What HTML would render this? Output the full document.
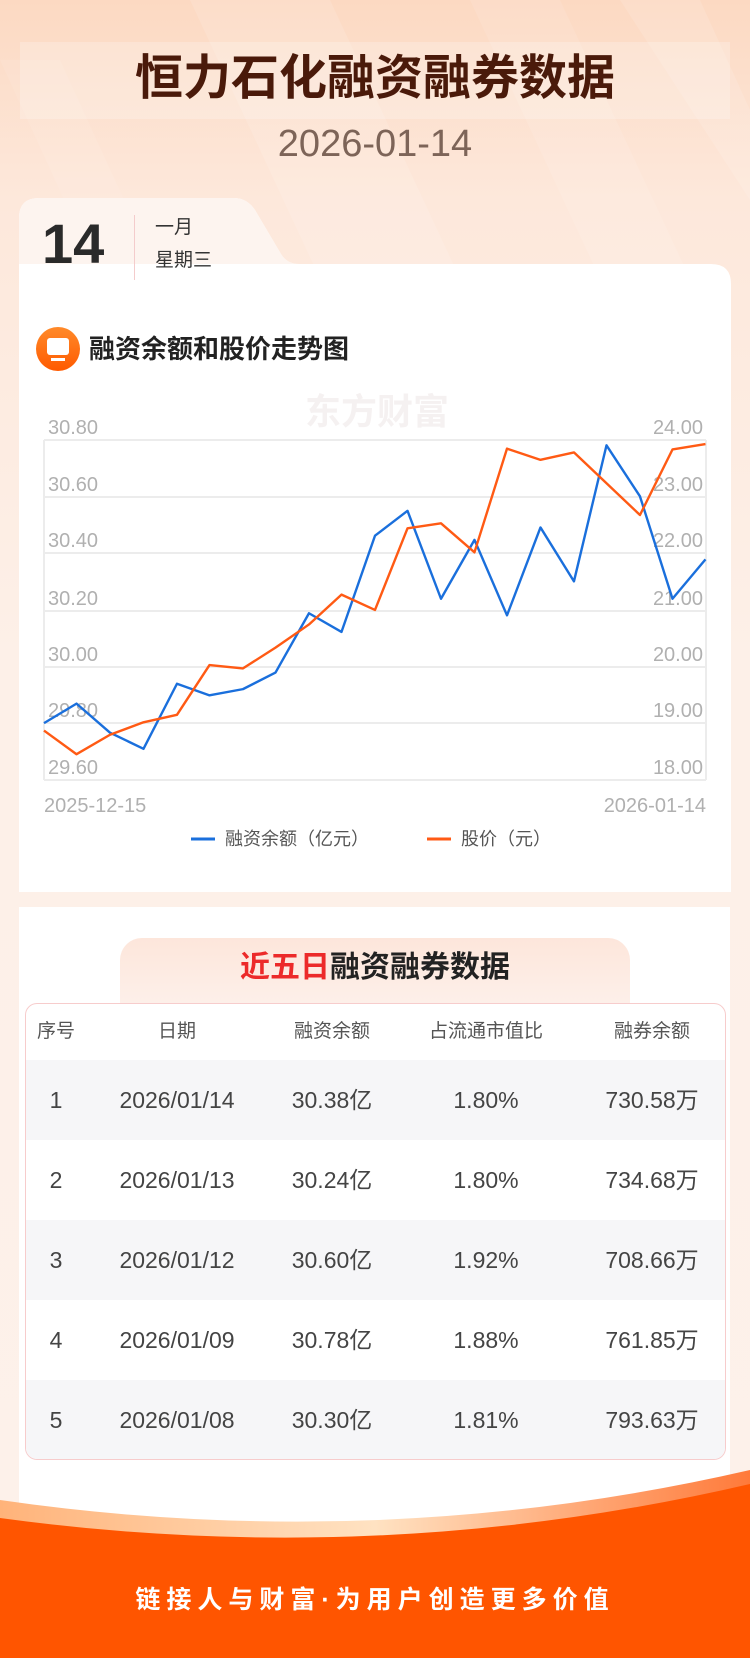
<!DOCTYPE html>
<html><head><meta charset="utf-8"><style>
*{margin:0;padding:0;box-sizing:border-box}
body{width:750px;height:1658px;position:relative;overflow:hidden;font-family:"Liberation Sans","Noto Sans CJK SC",sans-serif;background:linear-gradient(180deg,#fcd9c2 0%,#fde8db 12%,#fdf0e8 40%,#fdf1ea 100%)}
.abs{position:absolute}
</style></head><body>
<svg class="abs" style="left:0;top:0" width="750" height="300">
<polygon points="190,0 330,0 470,300 330,300" fill="#fff" opacity="0.12"/>
<polygon points="470,0 560,0 700,300 610,300" fill="#fff" opacity="0.1"/>
<polygon points="620,0 700,0 750,110 750,200" fill="#fff" opacity="0.12"/>
<polygon points="0,60 60,60 170,300 110,300" fill="#fff" opacity="0.08"/>
</svg>
<div class="abs" style="left:20px;top:42px;width:710px;height:77px;background:rgba(255,255,255,0.22)"></div>
<div class="abs" style="left:0;width:750px;top:51px;text-align:center;font-size:48px;font-weight:bold;color:#4a1a0a;line-height:56px">恒力石化融资融券数据</div>
<div class="abs" style="left:0;width:750px;top:121px;text-align:center;font-size:38px;color:#7d6458;line-height:46px">2026-01-14</div>

<svg class="abs" style="left:19px;top:198px" width="712" height="694">
<path d="M0,694 L0,20 Q0,0 20,0 L215,0 Q228,0 236,12 L262,56 Q268,66 280,66 L692,66 Q712,66 712,86 L712,694 Z" fill="#fff"/>
<path d="M0,66 L0,20 Q0,0 20,0 L215,0 Q228,0 236,12 L262,56 Q268,66 280,66 Z" fill="#fdf4ef"/>
</svg>
<div class="abs" style="left:42px;top:214px;font-size:56px;font-weight:bold;color:#2a2a2a;line-height:60px">14</div>
<div class="abs" style="left:134px;top:215px;width:1px;height:65px;background:#f4cccc"></div>
<div class="abs" style="left:155px;top:215px;font-size:19px;color:#333;line-height:26px">一月</div>
<div class="abs" style="left:155px;top:248px;font-size:19px;color:#333;line-height:26px">星期三</div>

<div class="abs" style="left:36px;top:327px;width:44px;height:44px;border-radius:22px;background:linear-gradient(180deg,#ff8a2a,#ff5a00)"></div>
<div class="abs" style="left:47px;top:338px;width:22px;height:17px;border-radius:3px;background:#fff"></div>
<div class="abs" style="left:51px;top:358px;width:14px;height:3px;background:#fff"></div>
<div class="abs" style="left:89px;top:331px;font-size:26px;font-weight:bold;color:#222;line-height:36px">融资余额和股价走势图</div>

<div class="abs" style="left:305px;top:392px;font-size:36px;font-weight:bold;color:#f5f1f1;line-height:40px">东方财富</div>
<svg class="abs" style="left:0;top:0" width="750" height="900">
<g stroke="#ececec" stroke-width="2">
<line x1="44" y1="440" x2="706" y2="440"/><line x1="44" y1="497" x2="706" y2="497"/><line x1="44" y1="553" x2="706" y2="553"/><line x1="44" y1="611" x2="706" y2="611"/><line x1="44" y1="667" x2="706" y2="667"/><line x1="44" y1="723" x2="706" y2="723"/><line x1="44" y1="780" x2="706" y2="780"/>
<line x1="44" y1="440" x2="44" y2="780"/><line x1="706" y1="440" x2="706" y2="780"/>
</g>
<g font-size="20" fill="#b0b0b0" font-family="Liberation Sans,sans-serif">
<text x="48" y="434">30.80</text><text x="48" y="491">30.60</text><text x="48" y="547">30.40</text><text x="48" y="605">30.20</text><text x="48" y="661">30.00</text><text x="48" y="717">29.80</text><text x="48" y="774">29.60</text>
<g text-anchor="end"><text x="703" y="434">24.00</text><text x="703" y="491">23.00</text><text x="703" y="547">22.00</text><text x="703" y="605">21.00</text><text x="703" y="661">20.00</text><text x="703" y="717">19.00</text><text x="703" y="774">18.00</text></g>
<text x="44" y="812">2025-12-15</text><text x="706" y="812" text-anchor="end">2026-01-14</text>
</g>
<g transform="translate(0,180) scale(0.4783,0.4146)" fill="none" stroke-width="2.4" stroke-linejoin="round">
<polyline vector-effect="non-scaling-stroke" stroke="#1a6fdc" points="92,1310 160,1263 230,1333 300,1372 370,1215 438,1243 508,1228 576,1188 646,1045 714,1090 784,858 852,798 922,1010 992,868 1060,1050 1130,838 1200,968 1268,640 1338,763 1406,1010 1475,915"/>
<polyline vector-effect="non-scaling-stroke" stroke="#ff5a14" points="92,1328 160,1385 230,1338 300,1308 370,1290 438,1170 508,1178 576,1128 646,1072 714,1000 784,1037 852,840 922,828 992,898 1060,648 1130,675 1200,657 1338,808 1406,650 1475,637"/>
</g>
<line x1="191" y1="839" x2="215" y2="839" stroke="#1a6fdc" stroke-width="3"/>
<line x1="427" y1="839" x2="451" y2="839" stroke="#ff5a14" stroke-width="3"/>
<g font-size="18" fill="#555" font-family="Liberation Sans,Noto Sans CJK SC,sans-serif">
<text x="225" y="845">融资余额（亿元）</text><text x="461" y="845">股价（元）</text></g>
</svg>

<div class="abs" style="left:19px;top:907px;width:711px;height:640px;background:#fff"></div>
<div class="abs" style="left:120px;top:938px;width:510px;height:70px;border-radius:22px 22px 0 0;background:linear-gradient(180deg,#fde6db,#fdf0ea)"></div>
<div class="abs" style="left:0;width:750px;top:949px;text-align:center;font-size:30px;font-weight:bold;color:#222;line-height:38px"><span style="color:#ec2a2a">近五日</span>融资融券数据</div>
<div class="abs" style="left:25px;top:1003px;width:701px;height:457px;border:1px solid #f7cccc;border-radius:12px;background:#fff;overflow:hidden">
<style>
.r{position:absolute;left:0;width:701px;height:80px;font-size:23px;color:#444;line-height:80px}
.r span{position:absolute;transform:translateX(-50%);white-space:nowrap}
.h{height:56px;line-height:56px;font-size:19px;color:#555}
.g{background:#f6f6f8}
</style>
<div class="r h" style="top:0"><span style="left:30px">序号</span><span style="left:151px">日期</span><span style="left:306px">融资余额</span><span style="left:460px">占流通市值比</span><span style="left:626px">融券余额</span></div>
<div class="r g" style="top:56px"><span style="left:30px">1</span><span style="left:151px">2026/01/14</span><span style="left:306px">30.38亿</span><span style="left:460px">1.80%</span><span style="left:626px">730.58万</span></div>
<div class="r" style="top:136px"><span style="left:30px">2</span><span style="left:151px">2026/01/13</span><span style="left:306px">30.24亿</span><span style="left:460px">1.80%</span><span style="left:626px">734.68万</span></div>
<div class="r g" style="top:216px"><span style="left:30px">3</span><span style="left:151px">2026/01/12</span><span style="left:306px">30.60亿</span><span style="left:460px">1.92%</span><span style="left:626px">708.66万</span></div>
<div class="r" style="top:296px"><span style="left:30px">4</span><span style="left:151px">2026/01/09</span><span style="left:306px">30.78亿</span><span style="left:460px">1.88%</span><span style="left:626px">761.85万</span></div>
<div class="r g" style="top:376px"><span style="left:30px">5</span><span style="left:151px">2026/01/08</span><span style="left:306px">30.30亿</span><span style="left:460px">1.81%</span><span style="left:626px">793.63万</span></div>
</div>

<svg class="abs" style="left:0;top:1470px" width="750" height="188">
<defs><linearGradient id="fg" x1="0" y1="0" x2="1" y2="0"><stop offset="0" stop-color="#ffb37a"/><stop offset="0.5" stop-color="#ffe2c2"/><stop offset="1" stop-color="#ff7a3a"/></linearGradient></defs>
<path d="M0,30 Q380,85 750,0 L750,188 L0,188 Z" fill="url(#fg)"/>
<path d="M0,48 Q380,100 750,14 L750,188 L0,188 Z" fill="#ff5500"/>
<rect x="0" y="68" width="750" height="120" fill="#ff5500"/>
</svg>
<div class="abs" style="left:0;width:750px;top:1582px;text-align:center;font-size:25px;font-weight:bold;color:#fff;letter-spacing:6px;line-height:36px">链接人与财富·为用户创造更多价值</div>
</body></html>
